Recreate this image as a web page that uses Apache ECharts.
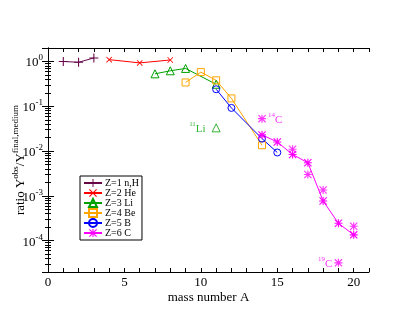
<!DOCTYPE html>
<html style="height: 100%">
<head>
<meta charset="utf-8">
<script src="https://cdn.jsdelivr.net/npm/echarts@6/dist/echarts.min.js"></script>
</head>
<body style="height: 100%; margin: 0; background: #fff">
<div id="container" style="width: 415px; height: 321px"></div>
<script type="text/javascript">
// mass number A and ratio Yobs/Yfinal,medium per element
var A_H = [1, 2, 3];
var R_H = [1.0, 0.96, 1.2];
var A_He = [4, 6, 8];
var R_He = [1.1, 0.93, 1.08];
var A_Li = [7, 8, 9, 11];
var R_Li = [0.53, 0.62, 0.70, 0.31];
var A_Be = [9, 10, 11, 12, 14];
var R_Be = [0.34, 0.58, 0.38, 0.15, 0.0135];
var A_B = [11, 12, 14, 15];
var R_B = [0.24, 0.092, 0.019, 0.0093];
var A_C = [14, 15, 16, 17, 18, 19, 20];
var R_C = [0.023, 0.016, 0.0084, 0.0055, 0.00077, 0.000245, 0.000135];
// extra carbon points (not connected)
var A_Cx = [16, 17, 18, 20];
var R_Cx = [0.011, 0.003, 0.00135, 0.00021];
// labelled special points
var A_Li11 = [11], R_Li11 = [0.033];
var A_C14 = [14], R_C14 = [0.053];
var A_C19 = [19], R_C19 = [0.000032];

var legendNames = ['Z=1 n,H', 'Z=2 He', 'Z=3 Li', 'Z=4 Be', 'Z=5 B', 'Z=6 C'];
var xTicks = [0, 5, 10, 15, 20];

var FONT = 'Liberation Serif';
var PLUS = 'path://M4.4,0 H5.6 V4.4 H10 V5.6 H5.6 V10 H4.4 V5.6 H0 V4.4 H4.4 Z';
var CROSS = 'path://M0,1 L1,0 L5,4 L9,0 L10,1 L6,5 L10,9 L9,10 L5,6 L1,10 L0,9 L4,5 Z';
var STAR = 'path://M4.3,0 H5.7 V10 H4.3 Z M0,4.3 H10 V5.7 H0 Z M0,1 L1,0 L10,9 L9,10 Z M9,0 L10,1 L1,10 L0,9 Z';

function pairs(a, r) {
    var res = [];
    for (var i = 0; i < a.length; i++) res.push([a[i], r[i]]);
    return res;
}

function lineSeries(name, a, r, color, symbol, size, hollow) {
    return {
        name: name,
        type: 'line',
        data: pairs(a, r),
        symbol: symbol,
        symbolSize: size,
        showAllSymbol: true,
        lineStyle: { color: color, width: 1 },
        itemStyle: hollow ? { color: 'rgba(255,255,255,0)', borderColor: color, borderWidth: 1 } : { color: color, borderWidth: 0 }
    };
}

var supRich = {
    b: { fontFamily: FONT, fontSize: 13, color: '#000', lineHeight: 16, verticalAlign: 'bottom' },
    s: { fontFamily: FONT, fontSize: 9, color: '#000', lineHeight: 16, verticalAlign: 'top' }
};

function noteRich(color) {
    return {
        b: { fontFamily: FONT, fontSize: 11, color: color, lineHeight: 14, verticalAlign: 'bottom' },
        s: { fontFamily: FONT, fontSize: 7, color: color, lineHeight: 14, verticalAlign: 'top' }
    };
}

var dom = document.getElementById('container');
var myChart = echarts.init(dom, null, { renderer: 'canvas' });

var option = {
    animation: false,
    backgroundColor: '#fff',
    grid: { left: 48, right: 46, top: 48, bottom: 49, containLabel: false, outerBoundsMode: 'none' },
    legend: {
        data: legendNames,
        orient: 'vertical',
        left: 80,
        top: 176,
        padding: [2, 3, 2, 3],
        itemGap: 0,
        itemWidth: 18,
        itemHeight: 10,
        borderColor: '#000',
        borderWidth: 1,
        borderRadius: 0,
        backgroundColor: '#fff',
        textStyle: { fontFamily: FONT, fontSize: 10, color: '#000', padding: [0, 0, 0, -2] }
    },
    xAxis: [{
        type: 'value',
        min: 0,
        max: 21,
        interval: 1,
        name: 'mass number A',
        nameLocation: 'middle',
        nameGap: 19,
        nameMoveOverlap: false,
        nameTextStyle: { fontFamily: FONT, fontSize: 13, color: '#000' },
        axisLine: { lineStyle: { color: '#000', width: 1 } },
        axisTick: { inside: true, length: 4, lineStyle: { color: '#000' } },
        axisLabel: {
            fontFamily: FONT, fontSize: 13, color: '#000', margin: 4,
            formatter: function (v) { return xTicks.indexOf(v) >= 0 ? String(v) : ''; }
        },
        splitLine: { show: false }
    }, {
        type: 'value',
        position: 'top',
        min: 0,
        max: 21,
        interval: 1,
        axisLine: { lineStyle: { color: '#000', width: 1 } },
        axisTick: { inside: true, length: 4, lineStyle: { color: '#000' } },
        axisLabel: { show: false },
        splitLine: { show: false }
    }],
    yAxis: [{
        type: 'log',
        min: 2e-5,
        max: 2,
        logBase: 10,
        name: '{b|ratio Y}{s|obs}{b|/Y}{s|final,medium}',
        nameLocation: 'middle',
        nameGap: 21,
        nameMoveOverlap: false,
        nameTextStyle: { rich: supRich },
        axisLine: { show: true, lineStyle: { color: '#000', width: 1 } },
        axisTick: { inside: true, length: 6, lineStyle: { color: '#000' } },
        minorTick: { show: true, splitNumber: 9, length: 3, lineStyle: { color: '#000' } },
        axisLabel: {
            showMinLabel: false,
            showMaxLabel: false,
            margin: 5,
            rich: supRich,
            formatter: function (v) {
                var e = Math.round(Math.log(v) / Math.LN10);
                return '{b|10}{s|' + e + '}';
            }
        },
        splitLine: { show: false }
    }, {
        type: 'log',
        min: 2e-5,
        max: 2,
        logBase: 10,
        position: 'right',
        axisLine: { show: true, lineStyle: { color: '#000', width: 1 } },
        axisTick: { inside: true, length: 6, lineStyle: { color: '#000' } },
        minorTick: { show: true, splitNumber: 9, length: 3, lineStyle: { color: '#000' } },
        axisLabel: { show: false },
        splitLine: { show: false }
    }],
    series: [
        lineSeries('Z=1 n,H', A_H, R_H, '#670748', PLUS, 9, false),
        lineSeries('Z=2 He', A_He, R_He, '#ff0000', CROSS, 6, false),
        lineSeries('Z=3 Li', A_Li, R_Li, '#00a000', 'triangle', 8, true),
        lineSeries('Z=4 Be', A_Be, R_Be, '#ffa500', 'rect', 7, true),
        lineSeries('Z=5 B', A_B, R_B, '#0000ff', 'circle', 7, true),
        lineSeries('Z=6 C', A_C, R_C, '#ff00ff', STAR, 8, false),
        {
            name: 'C extra', type: 'scatter', data: pairs(A_Cx, R_Cx),
            symbol: STAR, symbolSize: 8, itemStyle: { color: '#ff00ff' }
        },
        {
            name: '11Li', type: 'scatter', data: pairs(A_Li11, R_Li11),
            symbol: 'triangle', symbolSize: 8,
            itemStyle: { color: 'rgba(255,255,255,0)', borderColor: '#00a000', borderWidth: 1 },
            label: { show: true, position: 'left', distance: 6, formatter: '{s|11}{b|Li}', rich: noteRich('#00a000') }
        },
        {
            name: '14C', type: 'scatter', data: pairs(A_C14, R_C14),
            symbol: STAR, symbolSize: 8, itemStyle: { color: '#ff00ff' },
            label: { show: true, position: 'right', distance: 2, formatter: '{s|14}{b|C}', rich: noteRich('#ff00ff') }
        },
        {
            name: '19C', type: 'scatter', data: pairs(A_C19, R_C19),
            symbol: STAR, symbolSize: 8, itemStyle: { color: '#ff00ff' },
            label: { show: true, position: 'left', distance: 2, formatter: '{s|19}{b|C}', rich: noteRich('#ff00ff') }
        }
    ]
};
myChart.setOption(option);
</script>
</body>
</html>
